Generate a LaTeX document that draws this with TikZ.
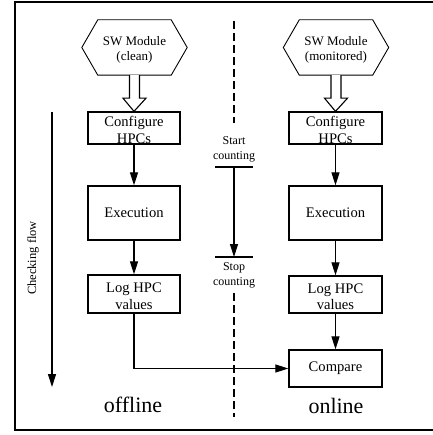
\documentclass[tikz,border=0pt]{standalone}
\usepackage{fontspec}
\setmainfont{Liberation Serif}
\usetikzlibrary{arrows.meta,calc}
\newcommand{\twoline}[2]{\begin{tabular}[t]{@{}c@{}}#1\\#2\end{tabular}}
\begin{document}
\begin{tikzpicture}[x=1pt,y=-1pt,
  hexnode/.style={minimum width=105pt,minimum height=55pt,inner sep=0pt,font=\fontsize{13}{15}\selectfont,text height=10pt,text depth=14pt},
  hexline/.style={draw,line width=0.9pt},
  box/.style={draw,line width=1.3pt,minimum width=92pt,inner sep=0pt,font=\fontsize{14.6}{16.6}\selectfont},
  two/.style={text height=12pt,text depth=14.5pt},
  arr/.style={line width=1.2pt,-{Triangle[length=13pt,width=8pt]}},
  blk/.style={draw,line width=1.1pt,fill=white,line join=miter},
  small/.style={inner sep=0pt,font=\fontsize{12}{15}\selectfont,text height=8pt,text depth=18pt},
  big/.style={inner sep=0pt,font=\fontsize{22}{24}\selectfont},
  dash line/.style={line width=1.2pt,dash pattern=on 8pt off 4pt},
  bar/.style={line width=1.2pt}
]
\useasboundingbox (0,0) rectangle (432,435);
% frame
\draw[line width=1.4pt] (15,2) rectangle (436,430);

% left column
\node[hexnode] (h1) at (134.5,47.5) {\twoline{SW Module}{(clean)}};
\draw[hexline] (h1.west) -- ($(h1.north west)+(16,0)$) -- ($(h1.north east)+(-16,0)$) -- (h1.east) -- ($(h1.south east)+(-16,0)$) -- ($(h1.south west)+(16,0)$) -- cycle;
\node[box,two,minimum height=32pt] (c1) at (134,128) {\twoline{Configure}{HPCs}};
\node[box,minimum height=54pt] (e1) at (134,213) {Execution};
\node[box,two,minimum height=38pt] (l1) at (134,294) {\twoline{Log HPC}{values}};
\draw[blk] ($(h1.south)+(-5,0)$) -- ($(h1.south)+(-5,23)$) -- ($(h1.south)+(-11.5,23)$) -- (c1.north) -- ($(h1.south)+(11.5,23)$) -- ($(h1.south)+(5,23)$) -- ($(h1.south)+(5,0)$);
\draw[arr] (c1.south) -- (e1.north);
\draw[arr] (e1.south) -- (l1.north);

% right column
\node[hexnode] (h2) at (336,47.5) {\twoline{SW Module}{(monitored)}};
\draw[hexline] (h2.west) -- ($(h2.north west)+(16,0)$) -- ($(h2.north east)+(-16,0)$) -- (h2.east) -- ($(h2.south east)+(-16,0)$) -- ($(h2.south west)+(16,0)$) -- cycle;
\node[box,two,minimum width=93pt,minimum height=32pt] (c2) at (335.5,128) {\twoline{Configure}{HPCs}};
\node[box,minimum width=93pt,minimum height=54pt] (e2) at (335.5,213) {Execution};
\node[box,two,minimum width=93pt,minimum height=37pt] (l2) at (335.5,294.5) {\twoline{Log HPC}{values}};
\node[box,minimum width=93pt,minimum height=37pt] (cmp) at (335.5,368.5) {Compare};
\draw[blk] ($(h2.south)+(-5,0)$) -- ($(h2.south)+(-5,23)$) -- ($(h2.south)+(-11.5,23)$) -- (c2.north) -- ($(h2.south)+(11.5,23)$) -- ($(h2.south)+(5,23)$) -- ($(h2.south)+(5,0)$);
\draw[arr] (c2.south) -- (e2.north);
\draw[arr] (e2.south) -- (l2.north);
\draw[arr] (l2.south) -- (cmp.north);

% offline -> compare
\draw[arr] (l1.south) |- (cmp.west);

% checking flow
\coordinate (cf1) at (52,112);
\coordinate (cf2) at (52,387);
\draw[arr] (cf1) -- (cf2);
\node[inner sep=0pt,rotate=90,font=\fontsize{12.5}{15}\selectfont] (cfl) at (33,258) {Checking flow};

% middle timeline
\coordinate (d1) at (234,21);
\coordinate (d2) at (234,123);
\coordinate (d3) at (234,293);
\coordinate (d4) at (234,417);
\draw[dash line] (d1) -- (d2);
\draw[dash line] (d3) -- (d4);
\node[small] (st) at (234,150) {\twoline{Start}{counting}};
\node[small] (sp) at (234,275) {\twoline{Stop}{counting}};
\coordinate (b1) at (234,167);
\coordinate (b2) at (234,257);
\draw[bar] ($(b1)+(-19,0)$) -- ($(b1)+(19,0)$);
\draw[bar] ($(b2)+(-19,0)$) -- ($(b2)+(19,0)$);
\draw[arr] (b1) -- (b2);

% labels
\node[big,anchor=base] (off) at (133,412) {offline};
\node[big,anchor=base] (on) at (336,413.5) {online};
\end{tikzpicture}
\end{document}
